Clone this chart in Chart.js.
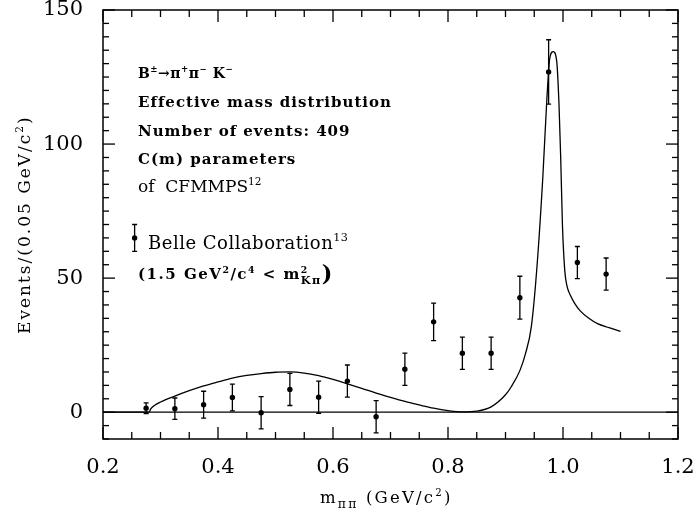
<!DOCTYPE html>
<html lang="en">

<head>
    <meta charset="UTF-8">
    <title>m_pipi effective mass distribution</title>
    <script src="https://cdn.jsdelivr.net/npm/chart.js"></script>
    <style>
        body { margin: 0; background: #fff; }
    </style>
</head>

<body>
    <canvas id="massChart" width="695" height="522"></canvas>

    <script>
        // Belle data points (bin centres, events, errors)
        const massBins = [0.275, 0.325, 0.375, 0.425, 0.475, 0.525, 0.575, 0.625, 0.675,
            0.725, 0.775, 0.825, 0.875, 0.925, 0.975, 1.025, 1.075];
        const events = [1.5, 1.3, 2.8, 5.5, -0.2, 8.5, 5.6, 11.6, -1.7,
            16, 33.7, 22, 22, 42.7, 126.9, 55.8, 51.5];
        const errors = [2, 4, 5, 5, 6, 6, 6, 6, 6, 6, 7, 6, 6, 8, 12, 6, 6];

        // model curve
        const curveMass = [0.2, 0.28, 0.283, 0.29, 0.30, 0.325, 0.35, 0.375, 0.40, 0.425, 0.45, 0.475, 0.50,
            0.525, 0.55, 0.575, 0.60, 0.625, 0.65, 0.675, 0.70, 0.725, 0.75, 0.775, 0.80, 0.825,
            0.85, 0.875, 0.90, 0.91, 0.925, 0.935, 0.945, 0.955, 0.965, 0.972, 0.977, 0.983,
            0.989, 0.993, 0.996, 0.999, 1.003, 1.007, 1.012, 1.02, 1.03, 1.045, 1.06, 1.08, 1.10];
        const curveEvents = [0, 0, 1.2, 2.6, 3.8, 6.0, 8.0, 9.8, 11.3, 12.7, 13.7, 14.4, 14.9,
            15.0, 14.6, 13.6, 12.2, 10.6, 8.9, 7.1, 5.5, 4.0, 2.7, 1.5, 0.6, 0.1,
            0.4, 2.0, 6.5, 9.5, 15.5, 22, 32, 55, 88, 117, 132, 134.5,
            131, 115, 95, 70, 53, 47, 44, 40.7, 37.8, 35, 33, 31.5, 30.1];

        // legend symbol
        const legendMass = [0.255];
        const legendEvents = [65];
        const legendErrors = [5];

        const xTickLabels = [0.2, 0.4, 0.6, 0.8, 1.0, 1.2];
        const yTickLabels = [0, 50, 100, 150];
        const xMinorTicks = [0.2, 0.25, 0.3, 0.35, 0.4, 0.45, 0.5, 0.55, 0.6, 0.65, 0.7,
            0.75, 0.8, 0.85, 0.9, 0.95, 1.0, 1.05, 1.1, 1.15, 1.2];
        const yMinorTicks = [-10, -5, 0, 5, 10, 15, 20, 25, 30, 35, 40, 45, 50, 55, 60, 65, 70,
            75, 80, 85, 90, 95, 100, 105, 110, 115, 120, 125, 130, 135, 140, 145, 150];

        const serif = "'DejaVu Serif', 'Liberation Serif', serif";

        // text with super/subscripts: [text, mode]
        function drawRich(ctx, x, y, parts, size, weight, spacing) {
            let cx = x;
            parts.forEach(p => {
                const mode = p[1] || '';
                let fs = size, dy = 0;
                if (mode.startsWith('sup')) { fs = size * 0.62; dy = -size * 0.42; }
                if (mode === 'sub') { fs = size * 0.75; dy = size * 0.3; }
                if (mode === 'big') { fs = size * 1.5; dy = size * 0.1; }
                ctx.font = weight + ' ' + fs + 'px ' + serif;
                ctx.letterSpacing = (spacing || 0) + 'px';
                ctx.fillText(p[0], cx, y + dy);
                if (mode !== 'supkeep') cx += ctx.measureText(p[0]).width;
            });
            ctx.letterSpacing = '0px';
            return cx - x;
        }

        const framePlugin = {
            id: 'frame',
            afterDraw(chart) {
                const ctx = chart.ctx;
                const a = chart.chartArea;
                const xs = chart.scales.x, ys = chart.scales.y;
                ctx.save();
                ctx.strokeStyle = '#000';
                ctx.fillStyle = '#000';

                // zero line
                ctx.lineWidth = 1.2;
                ctx.beginPath();
                ctx.moveTo(a.left, ys.getPixelForValue(0));
                ctx.lineTo(a.right, ys.getPixelForValue(0));
                ctx.stroke();

                // error bars
                ctx.lineWidth = 1.3;
                const bars = (xv, yv, ev) => {
                    xv.forEach((m, i) => {
                        const px = xs.getPixelForValue(m);
                        const lo = ys.getPixelForValue(yv[i] - ev[i]);
                        const hi = ys.getPixelForValue(yv[i] + ev[i]);
                        ctx.beginPath();
                        ctx.moveTo(px, lo); ctx.lineTo(px, hi);
                        ctx.moveTo(px - 2.5, lo); ctx.lineTo(px + 2.5, lo);
                        ctx.moveTo(px - 2.5, hi); ctx.lineTo(px + 2.5, hi);
                        ctx.stroke();
                    });
                };
                bars(massBins, events, errors);
                bars(legendMass, legendEvents, legendErrors);

                // frame
                ctx.lineWidth = 1.5;
                ctx.strokeRect(a.left, a.top, a.right - a.left, a.bottom - a.top);

                // inward ticks, long ones at the labelled values
                const tw = 1.3;
                xMinorTicks.forEach(v => {
                    const px = xs.getPixelForValue(v);
                    const len = xTickLabels.some(t => Math.abs(t - v) < 1e-6) ? 12 : 7;
                    ctx.fillRect(px - tw / 2, a.bottom - len, tw, len);
                    ctx.fillRect(px - tw / 2, a.top, tw, len);
                });
                yMinorTicks.forEach(v => {
                    const py = ys.getPixelForValue(v);
                    const len = yTickLabels.includes(v) ? 12 : 6;
                    ctx.fillRect(a.left, py - tw / 2, len, tw);
                    ctx.fillRect(a.right - len, py - tw / 2, len, tw);
                });

                // annotation text
                ctx.textAlign = 'left';
                ctx.textBaseline = 'alphabetic';
                drawRich(ctx, 138, 78, [['B'], ['±', 'sup'], ['→π'], ['+', 'sup'], ['π'], ['−', 'sup'], [' K'], ['−', 'sup']], 14, 'bold', 0.5);
                drawRich(ctx, 138, 107, [['Effective mass distribution']], 15, 'bold', 1);
                drawRich(ctx, 138, 136, [['Number of events: 409']], 15, 'bold', 1);
                drawRich(ctx, 138, 164, [['C(m) parameters']], 15, 'bold', 1);
                drawRich(ctx, 138, 192, [['of  CFMMPS'], ['12', 'sup']], 17, 'normal', 0);
                drawRich(ctx, 148, 249, [['Belle Collaboration'], ['13', 'sup']], 18, 'normal', 0.5);
                drawRich(ctx, 138, 279, [['(1.5 GeV'], ['2', 'sup'], ['/c'], ['4', 'sup'], [' < m'], ['2', 'supkeep'], ['Kπ', 'sub'], [')', 'big']], 15, 'bold', 1.5);

                // x axis title
                drawRich(ctx, 320, 503, [['m'], ['ππ', 'sub'], [' (GeV/c'], ['2', 'sup'], [')']], 16.5, 'normal', 2.2);

                // y axis title
                ctx.save();
                ctx.translate(30, 225);
                ctx.rotate(-Math.PI / 2);
                ctx.font = '17px ' + serif;
                ctx.letterSpacing = '2px';
                const w = ctx.measureText('Events/(0.05 GeV/c)').width + 8;
                ctx.letterSpacing = '0px';
                drawRich(ctx, -w / 2, 0, [['Events/(0.05 GeV/c'], ['2', 'sup'], [')']], 17, 'normal', 2);
                ctx.restore();

                ctx.restore();
            }
        };

        const ctx1 = document.getElementById('massChart').getContext('2d');
        new Chart(ctx1, {
            type: 'scatter',
            data: {
                datasets: [{
                    type: 'line',
                    data: curveMass.map((m, i) => ({ x: m, y: curveEvents[i] })),
                    borderColor: '#000',
                    borderWidth: 1.3,
                    pointRadius: 0,
                    cubicInterpolationMode: 'monotone',
                    fill: false
                }, {
                    data: massBins.map((m, i) => ({ x: m, y: events[i] })),
                    backgroundColor: '#000',
                    borderWidth: 0,
                    pointRadius: 2.7
                }, {
                    data: legendMass.map((m, i) => ({ x: m, y: legendEvents[i] })),
                    backgroundColor: '#000',
                    borderWidth: 0,
                    pointRadius: 2.7
                }]
            },
            plugins: [framePlugin],
            options: {
                responsive: false,
                animation: false,
                layout: { padding: { left: 0, right: 17, top: 10, bottom: 0 } },
                plugins: { legend: { display: false }, tooltip: { enabled: false } },
                scales: {
                    x: {
                        type: 'linear',
                        min: 0.2,
                        max: 1.2,
                        afterBuildTicks: s => { s.ticks = xTickLabels.map(v => ({ value: v })); },
                        afterFit: s => { s.height = 83; s.paddingLeft = 0; s.paddingRight = 0; },
                        grid: { display: false, drawTicks: false },
                        border: { display: false },
                        ticks: {
                            callback: v => v.toFixed(1),
                            font: { family: serif, size: 21 },
                            color: '#000',
                            padding: 16,
                            maxRotation: 0,
                            autoSkip: false
                        }
                    },
                    y: {
                        min: -10,
                        max: 150,
                        afterBuildTicks: s => { s.ticks = yTickLabels.map(v => ({ value: v })); },
                        afterFit: s => { s.width = 103; s.paddingTop = 0; s.paddingBottom = 0; },
                        grid: { display: false, drawTicks: false },
                        border: { display: false },
                        ticks: {
                            font: { family: serif, size: 21 },
                            color: '#000',
                            padding: 20
                        }
                    }
                }
            }
        });
    </script>
</body>

</html>
